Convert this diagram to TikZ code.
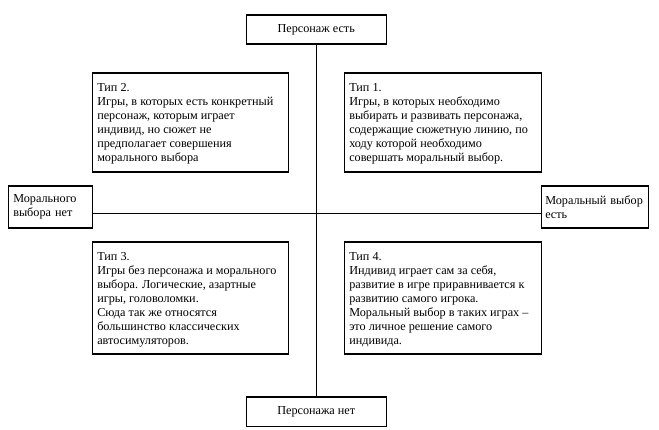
\documentclass[tikz,border=0pt]{standalone}
\usepackage{fontspec}
\setmainfont{Liberation Serif}
\newcommand\fs{\fontsize{12.2}{14}\selectfont}
\newcommand\tbox[3]{\parbox[c][#1][t]{#2}{\fs\vspace*{8.2pt}\raggedright\strut #3}}
\newcommand\tline[1]{\mbox{#1}}
\begin{document}
\begin{tikzpicture}[x=1pt,y=-1pt,
  frame/.style={draw, line width=1.5pt, anchor=north west, inner ysep=0pt, font=\fs},
  typebox/.style={frame, inner xsep=5pt},
  sidebox/.style={frame, align=left, inner xsep=#1, minimum height=42pt},
  endbox/.style={frame, align=center, minimum width=140pt, minimum height=29pt, inner xsep=0pt},
  link/.style={line width=1.5pt}]
\useasboundingbox (0,0) rectangle (659,430);
\fill[white] (0,0) rectangle (659,430);

\node[endbox] (top) at (245.5,14.5) {Персонаж есть};
\node[endbox] (bot) at (245.5,396.5) {Персонажа нет};

\node[sidebox=5pt, text width=74pt] (left) at (7.5,185.5) {Морального\\выбора нет};
\node[sidebox=4pt, text width=99pt] (right) at (540.5,185.5) {\tline{Моральный выбор}\\есть};

\coordinate (hc) at (315.5,213.5);

\draw[link] (top.south) -- (bot.north);
\draw[link] (left.east |- hc) -- (right.west |- hc);

\node[typebox] (t2) at (91.5,72.5) {\tbox{99pt}{186pt}{Тип 2.\\\tline{Игры, в которых есть конкретный}\\\tline{персонаж, которым играет}\\\tline{индивид, но сюжет не}\\\tline{предполагает совершения}\\\tline{морального выбора}}};
\node[typebox] (t1) at (343.5,72.5) {\tbox{99pt}{187pt}{Тип 1.\\\tline{Игры, в которых необходимо}\\\tline{выбирать и развивать персонажа,}\\\tline{содержащие сюжетную линию, по}\\\tline{ходу которой необходимо}\\\tline{совершать моральный выбор.}}};
\node[typebox] (t3) at (91.5,241.5) {\tbox{112pt}{186pt}{Тип 3.\\\tline{Игры без персонажа и морального}\\\tline{выбора. Логические, азартные}\\\tline{игры, головоломки.}\\\tline{Сюда так же относятся}\\\tline{большинство классических}\\\tline{автосимуляторов.}}};
\node[typebox] (t4) at (343.5,241.5) {\tbox{112pt}{187pt}{Тип 4.\\\tline{Индивид играет сам за себя,}\\\tline{развитие в игре приравнивается к}\\\tline{развитию самого игрока.}\\\tline{Моральный выбор в таких играх –}\\\tline{это личное решение самого}\\\tline{индивида.}}};
\end{tikzpicture}
\end{document}
